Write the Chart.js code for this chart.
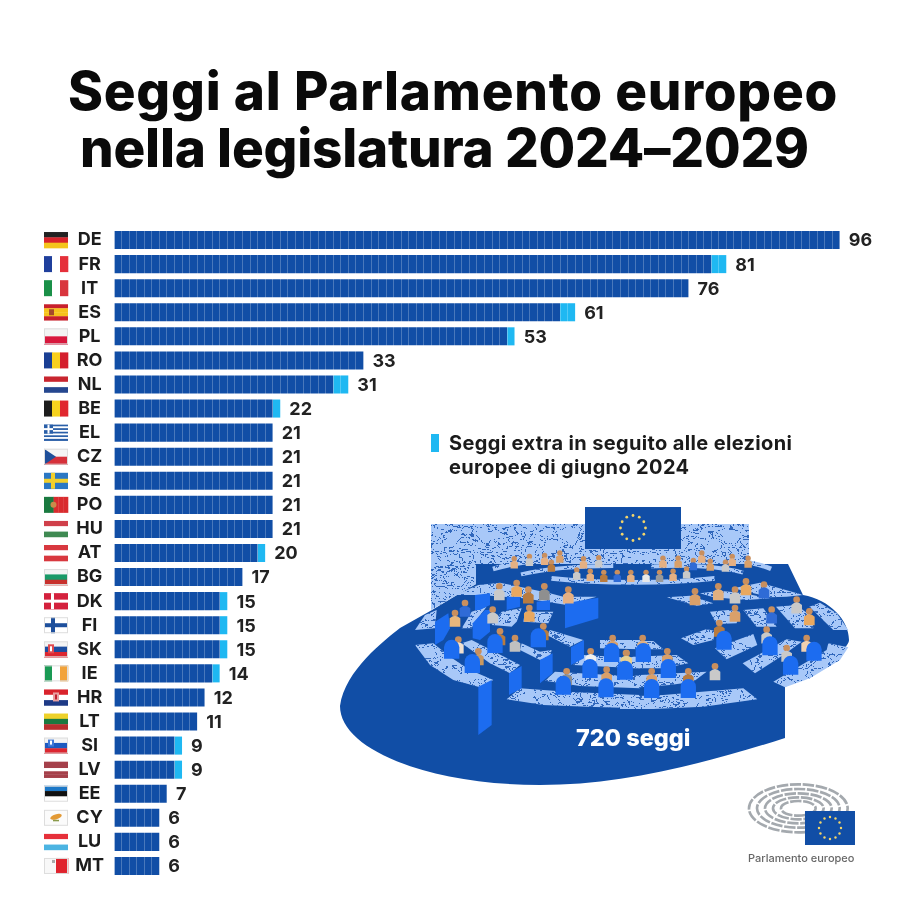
<!DOCTYPE html>
<html lang="it">
<head>
<meta charset="utf-8">
<title>Seggi al Parlamento europeo</title>
<script src="https://cdn.jsdelivr.net/npm/chart.js@4"></script>
<style>
  html, body { margin:0; background:#fff; }
  #page { position:relative; width:902px; height:904px; overflow:hidden; font-family:Inter, sans-serif; color:#111; }
  #chart, #art { position:absolute; left:0; top:0; }
  .title { position:absolute; white-space:nowrap; font:800 53px/56px Inter, sans-serif; color:#0a0a0a; }
  #swatch { position:absolute; left:431px; top:434px; width:8px; height:18px; background:#1fb8f2; }
  #note { position:absolute; left:449px; top:431px; font:700 20px/24px Inter, sans-serif; letter-spacing:.35px; color:#1b1b1b; white-space:nowrap; }
  #seats720 { position:absolute; left:576px; top:723px; font:800 23.5px/30px Inter, sans-serif; color:#fff; white-space:nowrap; }
  #logoText { position:absolute; left:748px; top:851px; font:500 11px/14px Inter, sans-serif; color:#666; white-space:nowrap; }
</style>
</head>
<body>
<div id="page">
  <canvas id="chart" width="902" height="904"></canvas>
  <svg id="art" width="902" height="904" viewBox="0 0 902 904"></svg>
  <div class="title" style="left:68px;top:63px;letter-spacing:.77px">Seggi al Parlamento europeo</div>
  <div class="title" style="left:80px;top:120px;letter-spacing:-.2px">nella legislatura 2024–2029</div>
  <div id="swatch"></div>
  <div id="note">Seggi extra in seguito alle elezioni<br>europee di giugno 2024</div>
  <div id="seats720">720 seggi</div>
  <div id="logoText">Parlamento europeo</div>
</div>
<script>
const countries = ['DE','FR','IT','ES','PL','RO','NL','BE','EL','CZ','SE','PO','HU','AT','BG','DK','FI','SK','IE','HR','LT','SI','LV','EE','CY','LU','MT'];
const baseSeats = [96,79,76,59,52,33,29,21,21,21,21,21,21,19,17,14,14,14,13,12,11,8,8,7,6,6,6];
const extraSeats = [0,2,0,2,1,0,2,1,0,0,0,0,0,1,0,1,1,1,1,0,0,1,1,0,0,0,0];

const DARK = '#114ea6';
const LIGHT = '#1fb8f2';

// flag = stripes, h or v, extra details are painted in flagDetail
const flagStripes = {
  DE:['h','#222','#d9232b','#f4c51c'], FR:['v','#1f3f9c','#fff','#e5303a'], IT:['v','#1a9048','#fff','#d9353d'],
  ES:['h','#c8202c','#f6c21c','#f6c21c','#c8202c'], PL:['h','#f3f3f3','#d8173d'], RO:['v','#1a3f94','#f8cf1d','#d41f2d'],
  NL:['h','#c8252f','#fff','#25478f'], BE:['v','#1d1d1d','#f6d21e','#e0272f'], EL:['h','#2a5fa8','#fff','#2a5fa8','#fff','#2a5fa8','#fff','#2a5fa8','#fff','#2a5fa8'],
  CZ:['h','#f4f4f4','#d6303a'], SE:['h','#2b78c4'], PO:['v','#1a7a40','#1a7a40','#d92b2e','#d92b2e','#d92b2e'],
  HU:['h','#d0404a','#fff','#3f8a52'], AT:['h','#d8383f','#fff','#d8383f'], BG:['h','#f4f4f4','#1a9a68','#c8302c'],
  DK:['h','#d4213d'], FI:['h','#fff'], SK:['h','#f4f4f4','#1b4da0','#dc2630'],
  IE:['v','#1a9a54','#fff','#f2a33a'], HR:['h','#d9232c','#fff','#1e3a86'], LT:['h','#eed12a','#1a7a40','#b92f2f'],
  SI:['h','#f4f4f4','#1c5ac0','#dc2630'], LV:['h','#a5404a','#a5404a','#fff','#a5404a','#a5404a'], EE:['h','#1c78c8','#111','#fff'],
  CY:['h','#fbfbfb'], LU:['h','#e6303a','#fff','#4cb4e2'], MT:['v','#f8f8f8','#e0232d']
};
const borderedFlags = ['PL','BG','FI','SK','SI','CY','MT','EE','IE','CZ'];

function cross(ctx, x, y, w, h, color, t) {
  ctx.fillStyle = color;
  ctx.fillRect(x + 7, y, t, h);
  ctx.fillRect(x, y + h / 2 - t / 2, w, t);
}

function flagDetail(ctx, code, x, y, w, h) {
  if (code === 'ES') { ctx.fillStyle = '#a5492a'; ctx.fillRect(x + 5, y + 5, 5, 6); }
  if (code === 'EL') { ctx.fillStyle = '#2a5fa8'; ctx.fillRect(x, y, 9, 9); ctx.fillStyle = '#fff'; ctx.fillRect(x + 3.5, y, 2, 9); ctx.fillRect(x, y + 3.5, 9, 2); }
  if (code === 'CZ') { ctx.fillStyle = '#1f4f9a'; ctx.beginPath(); ctx.moveTo(x, y); ctx.lineTo(x + 12, y + h / 2); ctx.lineTo(x, y + h); ctx.fill(); }
  if (code === 'SE') cross(ctx, x, y, w, h, '#f2d02c', 4);
  if (code === 'DK') cross(ctx, x, y, w, h, '#fff', 3);
  if (code === 'FI') cross(ctx, x, y, w, h, '#1d4f9c', 4);
  if (code === 'PO') { ctx.fillStyle = '#c98a4a'; ctx.beginPath(); ctx.arc(x + 9.5, y + h / 2, 3, 0, 7); ctx.fill(); }
  if (code === 'SK') { ctx.fillStyle = '#e04a50'; ctx.fillRect(x + 4, y + 3, 6, 9); ctx.fillStyle = '#fff'; ctx.fillRect(x + 6, y + 5, 2, 5); }
  if (code === 'SI') { ctx.fillStyle = '#3f78d8'; ctx.fillRect(x + 4, y + 2, 6, 7); ctx.fillStyle = '#fff'; ctx.fillRect(x + 6, y + 3, 2, 4); }
  if (code === 'HR') { ctx.fillStyle = '#e8a0a0'; ctx.fillRect(x + 9, y + 3, 6, 9); ctx.fillStyle = '#c02030'; ctx.fillRect(x + 11, y + 5, 2, 5); }
  if (code === 'CY') { ctx.fillStyle = '#e39a35'; ctx.beginPath(); ctx.ellipse(x + 12, y + 7, 6, 2.5, -.3, 0, 7); ctx.fill(); ctx.fillStyle = '#8a9a4a'; ctx.fillRect(x + 9, y + 10, 6, 1.5); }
  if (code === 'MT') { ctx.fillStyle = '#aaa'; ctx.fillRect(x + 8, y + 2, 3, 3); }
  if (borderedFlags.includes(code)) {
    ctx.strokeStyle = '#ddd'; ctx.lineWidth = 1; ctx.strokeRect(x + .5, y + .5, w - 1, h - 1);
  }
}

const flagsPlugin = {
  id: 'flags',
  afterDraw(chart) {
    const ctx = chart.ctx, yScale = chart.scales.y;
    const x = 44, w = 24, h = 16;
    countries.forEach((code, i) => {
      const top = yScale.getPixelForValue(i) - h / 2;
      const [dir, ...cols] = flagStripes[code];
      cols.forEach((c, k) => {
        ctx.fillStyle = c;
        if (dir === 'h') ctx.fillRect(x, top + k * h / cols.length, w, h / cols.length + .3);
        else ctx.fillRect(x + k * w / cols.length, top, w / cols.length + .3, h);
      });
      flagDetail(ctx, code, x, top, w, h);
    });
  }
};

const totalsPlugin = {
  id: 'totals',
  afterDraw(chart) {
    const ctx = chart.ctx, { x: xs, y: ys } = chart.scales;
    ctx.save();
    ctx.font = '700 18px Inter, sans-serif';
    ctx.fillStyle = '#222';
    ctx.textBaseline = 'middle';
    countries.forEach((c, i) => {
      const total = baseSeats[i] + extraSeats[i];
      ctx.fillText(total, xs.getPixelForValue(total) + 9, ys.getPixelForValue(i) + 1);
    });
    ctx.restore();
  }
};

new Chart(document.getElementById('chart'), {
  type: 'bar',
  data: {
    labels: countries,
    datasets: [
      { label: 'Seggi', data: baseSeats, backgroundColor: DARK },
      { label: 'Seggi extra', data: extraSeats, backgroundColor: LIGHT }
    ]
  },
  options: {
    indexAxis: 'y',
    responsive: false,
    animation: false,
    devicePixelRatio: 1,
    layout: { padding: { top: 228, right: 32, bottom: 26 } },
    datasets: { bar: { barPercentage: 0.75, categoryPercentage: 1 } },
    plugins: { legend: { display: false }, tooltip: { enabled: false } },
    scales: {
      x: {
        stacked: true, min: 0, max: 100,
        border: { display: false },
        // white lines over the bars split them in seats, they vanish on the white page
        grid: { z: 1, color: 'rgba(255,255,255,.24)', lineWidth: 1, drawTicks: false },
        ticks: { display: false, stepSize: 1 }
      },
      y: {
        stacked: true,
        afterFit(scale) { scale.width = 114; },
        border: { display: false },
        grid: { display: false, drawTicks: false },
        ticks: { autoSkip: false, crossAlign: 'center', padding: 10, color: '#1c1c1c', font: { family: 'Inter', size: 18, weight: '700' } }
      }
    }
  },
  plugins: [flagsPlugin, totalsPlugin]
});

// hemicycle illustration, decoration only. Left and right parts use 3x crop coordinates
const HALL = '#114ea6', CHAIR = '#1c6cf0', STONE = '#a8c8f8';
const backBenches = [
  ['M482 204 C560 180 700 170 838 170', 14], ['M565 220 C650 200 740 195 838 195', 12],
  ['M1010 172 C1120 170 1240 175 1305 204', 14], ['M950 197 C1040 192 1150 195 1222 215', 12],
  ['M655 232 C800 248 1000 248 1138 232', 14]
];
const backPeople = [
  [545,185,'#e5b083'],[590,178,'#c9c9c9'],[635,175,'#e5b083'],[680,168,'#d9a06a'],[750,185,'#e5b083'],[795,182,'#c9c9c9'],
  [655,195,'#b87b3f'],[730,218,'#c9c9c9'],[770,222,'#e5b083'],[810,225,'#b87b3f'],[850,225,'#2f6bd6'],[890,225,'#e5b083'],
  [935,225,'#e8e8e8'],[975,225,'#9a9a9a'],[1015,222,'#e5b083'],[1055,215,'#c9c9c9'],[985,183,'#e5b083'],[1030,183,'#d9a06a'],
  [1075,190,'#2f6bd6'],[1100,168,'#e5b083'],[1125,192,'#d9a06a'],[1170,195,'#c9c9c9'],[1190,178,'#e5b083'],[1237,183,'#d9a06a']
];
const leftBenches = [
  '45,255 100,250 150,290 210,330 280,360 240,382 160,360 90,315', '45,210 75,165 110,150 105,205',
  '185,205 215,155 260,140 225,185 215,205', '275,195 305,155 365,145 350,185 335,200',
  '185,250 215,240 360,315 330,340 270,310', '365,250 420,275 455,270 450,290 420,300 360,270',
  '450,210 550,240 510,260 440,225', '165,105 235,75 300,68 380,85 450,100 490,110 590,110 500,135 440,125 370,115 310,110 240,105',
  '375,155 460,155 445,190 370,185', '320,418 360,385 500,395 720,405 720,445 560,440 430,435',
  '435,362 465,335 540,340 720,350 720,385 540,378', '520,315 550,285 720,295 720,325 620,320', '600,240 720,240 720,268 600,265'
];
const leftPanels = [
  '235,380 275,360 275,495 235,525', '327,340 365,318 365,385 327,405', '420,300 458,280 458,340 420,370',
  '513,262 552,240 552,295 513,315', '495,130 595,113 595,175 495,205', '105,185 145,160 150,205 130,240 105,255',
  '218,190 255,150 270,150 270,215 240,240 218,235', '225,105 270,100 270,135 240,150 225,150', '320,110 360,110 360,140 320,150',
  '410,125 450,120 450,150 410,150'
];
const leftPeople = [
  [165,175,'#e8b77c'],[195,145,'#2f6bd6'],[278,165,'#c9c9c9'],[298,95,'#c9c9c9'],[350,85,'#e8a860'],[385,105,'#b87b3f'],
  [433,95,'#8f8f8f'],[505,105,'#e5b083'],[388,160,'#e8a860'],[175,255,'#f0e0d0'],[235,290,'#c89860'],[300,230,'#b87b3f'],
  [430,215,'#b87b3f'],[345,250,'#c0c0c0'],[500,350,'#8f8f8f'],[620,345,'#d9a06a'],[572,290,'#f0f0f0'],[680,295,'#e8d090'],[638,250,'#d9a06a']
];
const leftChairs = [[155,262],[217,305],[285,245],[415,228],[490,370],[618,378],[570,320],[675,322],[635,272]];
const rightBenches = [
  '0,410 130,405 370,385 412,418 250,440 100,447 0,447', '0,355 60,345 260,335 220,365 150,375 60,382 0,380',
  '0,300 40,290 170,285 205,310 130,325 40,325 0,322', '20,250 60,243 100,243 130,268 60,268',
  '183,235 260,207 285,213 280,240 220,255', '285,265 400,222 412,255 320,298', '368,310 500,238 545,245 490,285 405,340',
  '460,365 620,270 625,250 685,262 660,300 570,355 495,382', '270,155 325,150 360,155 350,190 290,192', '370,150 430,145 470,200 410,200',
  '468,140 530,135 575,170 580,205 525,205', '568,140 600,128 650,160 685,210 640,210', '140,112 210,107 280,130 230,137',
  '240,100 300,92 370,100 450,115 380,120 280,112', '340,85 420,68 550,105 500,110 450,112'
];
const rightPeople = [
  [68,250,'#e0b080'],[142,290,'#d9a06a'],[18,295,'#e8d090'],[95,350,'#d9a06a'],[205,350,'#b87b3f'],[285,335,'#c9c9c9'],
  [298,205,'#b87b3f'],[345,160,'#d9a06a'],[225,110,'#d9a06a'],[295,95,'#e0b080'],[345,105,'#c9c9c9'],[378,80,'#e8a860'],
  [432,90,'#2f6bd6'],[530,135,'#c9c9c9'],[568,170,'#e8a860'],[455,165,'#2f6bd6'],[440,225,'#c9c9c9'],[500,280,'#c9c9c9'],[560,250,'#f0d0b0']
];
const rightChairs = [[70,272],[145,320],[15,325],[95,380],[205,380],[312,235],[450,252],[512,310],[582,268]];
const logoArcs = [[148,72],[124,58],[100,45],[76,33],[52,22]];

function stars(cx, cy, r, size, color) {
  let s = '';
  for (let i = 0; i < 12; i++) {
    const a = i * Math.PI / 6;
    s += `<circle cx="${cx + r * Math.cos(a)}" cy="${cy + r * Math.sin(a)}" r="${size}" fill="${color}"/>`;
  }
  return s;
}
const polys = (list, fill) => list.map(p => `<polygon points="${p}" fill="${fill}"/>`).join('');
const people = (list, r, t) => list.map(p => `<circle cx="${p[0]}" cy="${p[1] - t}" r="${r}" fill="#c98f5e"/><path d="M${p[0] - t} ${p[1] + t * 1.6} V${p[1]} Q${p[0]} ${p[1] - t} ${p[0] + t} ${p[1]} V${p[1] + t * 1.6} Z" fill="${p[2]}"/>`).join('');
const chairs = list => list.map(c => `<path d="M${c[0] - 23} ${c[1] + 34} V${c[1]} A23 23 0 0 1 ${c[0] + 23} ${c[1]} V${c[1] + 34} Z" fill="${CHAIR}"/>`).join('');

const BACK = 'translate(330 500) scale(.338)', LEFT = 'translate(400 560) scale(.3333)', RIGHT = 'translate(620 560) scale(.3333)';
const art = `
<defs>
  <filter id="marble" filterUnits="userSpaceOnUse" x="330" y="500" width="540" height="300" color-interpolation-filters="sRGB">
    <feTurbulence type="fractalNoise" baseFrequency=".05 .085" numOctaves="4" seed="11" result="n"/>
    <feColorMatrix in="n" type="matrix" values="0 0 0 0 .07  0 0 0 0 .31  0 0 0 0 .68  1 0 0 0 0" result="m"/>
    <feComponentTransfer in="m" result="v"><feFuncA type="discrete" tableValues="0 0 0 0 0 0 0 0 0 0 0 0 0 .8 0 0 0 0 .8 0 0 0 0 0 0 0 0 0 0 0 0 0"/></feComponentTransfer>
    <feComposite in="v" in2="SourceAlpha" operator="in" result="c"/>
    <feMerge><feMergeNode in="SourceGraphic"/><feMergeNode in="c"/></feMerge>
  </filter>
</defs>
<path d="M340 706 C345 670 385 640 400 628 L432 610 L457 595 L476 584 V564 H788 L803 595 C830 600 849 620 849 640 C849 652 800 680 785 687 V738 C700 765 620 785 540 785 C430 785 340 750 340 706 Z" fill="${HALL}"/>
<g filter="url(#marble)" fill="${STONE}">
  <path d="M431 524 H749 V564 H476 V584 L431 610 Z"/>
  <g transform="${BACK}" fill="none" stroke="${STONE}">${backBenches.map(b => `<path d="${b[0]}" stroke-width="${b[1]}"/>`).join('')}</g>
  <g transform="${LEFT}">${polys(leftBenches, STONE)}</g>
  <g transform="${RIGHT}">${polys(rightBenches, STONE)}</g>
</g>
<rect x="585" y="507" width="96" height="42" fill="${HALL}"/>
${stars(633, 528, 12.5, 1.4, '#f3d56a')}
<g transform="${BACK}">${people(backPeople, 8, 11)}</g>
<g transform="${LEFT}">${polys(leftPanels, CHAIR)}${people(leftPeople, 10, 16)}${chairs(leftChairs)}</g>
<g transform="${RIGHT}">${people(rightPeople, 10, 16)}${chairs(rightChairs)}</g>
<g transform="translate(730 775) scale(.3333)">
  <g fill="none" stroke="#a4a9ae">
    ${logoArcs.map(a => `<ellipse cx="205" cy="100" rx="${a[0]}" ry="${a[1]}" stroke-width="8" stroke-dasharray="34 5"/>`).join('')}
  </g>
  <rect x="225" y="108" width="150" height="102" fill="${HALL}"/>
  ${stars(300, 159, 33, 3.6, '#f3d56a')}
</g>`;
document.getElementById('art').innerHTML = art;
</script>
</body>
</html>
